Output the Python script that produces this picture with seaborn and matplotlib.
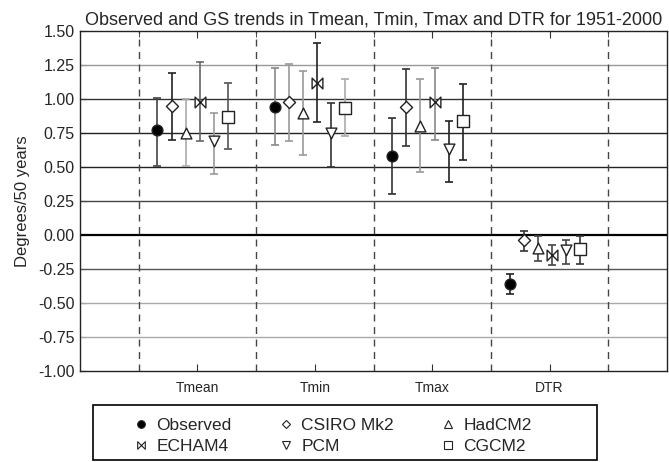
import numpy as np
import pandas as pd
import matplotlib
matplotlib.use("Agg")
import matplotlib.pyplot as plt
from matplotlib.path import Path
from matplotlib.lines import Line2D
from matplotlib.patches import Rectangle
import seaborn as sns

# ---------------- data ----------------
variables = ["Tmean", "Tmin", "Tmax", "DTR"]
series = ["Observed", "CSIRO Mk2", "HadCM2", "ECHAM4", "PCM", "CGCM2"]

obs_val = [0.77, 0.94, 0.58, -0.36]
obs_hi = [1.01, 1.23, 0.863, -0.289]
obs_lo = [0.51, 0.66, 0.30, -0.434]

csiro_val = [0.95, 0.98, 0.94, -0.04]
csiro_hi = [1.19, 1.255, 1.218, 0.032]
csiro_lo = [0.70, 0.69, 0.654, -0.118]

had_val = [0.75, 0.90, 0.80, -0.095]
had_hi = [1.00, 1.205, 1.15, -0.006]
had_lo = [0.51, 0.586, 0.463, -0.19]

echam_val = [0.98, 1.12, 0.98, -0.145]
echam_hi = [1.27, 1.414, 1.23, -0.077]
echam_lo = [0.69, 0.83, 0.70, -0.218]

pcm_val = [0.69, 0.75, 0.63, -0.11]
pcm_hi = [0.90, 0.973, 0.838, -0.035]
pcm_lo = [0.45, 0.50, 0.39, -0.213]

cgcm_val = [0.87, 0.935, 0.84, -0.105]
cgcm_hi = [1.115, 1.145, 1.113, -0.006]
cgcm_lo = [0.63, 0.726, 0.55, -0.213]

yticks = [1.50, 1.25, 1.00, 0.75, 0.50, 0.25, 0.00, -0.25, -0.50, -0.75, -1.00]

# ---------------- styles ----------------
sns.set_style("ticks")
plt.rcParams["font.family"] = ["Liberation Sans", "DejaVu Sans"]
plt.rcParams["axes.unicode_minus"] = False

offsets = [-0.34, -0.22, -0.10, 0.02, 0.14, 0.26]
bowtie = Path([(-1, 1), (1, -1), (1, 1), (-1, -1), (-1, 1)],
              [Path.MOVETO, Path.LINETO, Path.LINETO, Path.LINETO, Path.CLOSEPOLY])
markers = {"Observed": "o", "CSIRO Mk2": "D", "HadCM2": "^",
           "ECHAM4": bowtie, "PCM": "v", "CGCM2": "s"}
msizes = {"Observed": 60, "CSIRO Mk2": 38, "HadCM2": 60,
          "ECHAM4": 60, "PCM": 60, "CGCM2": 70}
faces = {"Observed": "black", "CSIRO Mk2": "white", "HadCM2": "white",
         "ECHAM4": "white", "PCM": "white", "CGCM2": "white"}
bar_shade = [  # rows: variables, cols: series
    ["#444444", "#222222", "#aaaaaa", "#666666", "#999999", "#555555"],
    ["#888888", "#999999", "#999999", "#222222", "#333333", "#aaaaaa"],
    ["#333333", "#333333", "#999999", "#888888", "#222222", "#222222"],
    ["#222222", "#333333", "#444444", "#444444", "#444444", "#333333"],
]
grid_shade = {1.25: "#999999", 1.00: "#333333", 0.75: "#222222", 0.50: "#222222",
              0.25: "#444444", 0.00: "#000000", -0.25: "#555555", -0.50: "#aaaaaa",
              -0.75: "#aaaaaa"}

# ---------------- table ----------------
vals = [obs_val, csiro_val, had_val, echam_val, pcm_val, cgcm_val]
his = [obs_hi, csiro_hi, had_hi, echam_hi, pcm_hi, cgcm_hi]
los = [obs_lo, csiro_lo, had_lo, echam_lo, pcm_lo, cgcm_lo]
rows = []
for si, s in enumerate(series):
    for vi, v in enumerate(variables):
        rows.append(dict(series=s, variable=v, vi=vi, si=si,
                         x=vi + 1 + offsets[si], value=vals[si][vi],
                         hi=his[si][vi], lo=los[si][vi]))
df = pd.DataFrame(rows)

# ---------------- figure ----------------
fig = plt.figure(figsize=(6.69, 4.62), dpi=100)
ax = fig.add_axes([80 / 669, 1 - 371 / 462, 587 / 669, 340 / 462])

ax.set_xlim(0, 5)
ax.set_ylim(-1.0, 1.5)

for yv, c in grid_shade.items():
    ax.axhline(yv, color=c, lw=1.6 if yv == 0 else 1.0, zorder=1)
for xv in [0.5, 1.5, 2.5, 3.5, 4.5]:
    ax.axvline(xv, color="#444444", lw=1.0, ls=(0, (5, 4)), zorder=1)

for _, r in df.iterrows():
    c = bar_shade[int(r.vi)][int(r.si)]
    ax.errorbar(r.x, r.value, yerr=[[r.value - r.lo], [r.hi - r.value]],
                fmt="none", ecolor=c, elinewidth=1.2, capsize=3.2, capthick=1.2,
                zorder=2)

for s in series:
    sub = df[df.series == s]
    sns.scatterplot(data=sub, x="x", y="value", ax=ax, marker=markers[s],
                    s=msizes[s], facecolor=faces[s], edgecolor="#222222",
                    linewidth=1.0, zorder=3, legend=False)

ax.set_xticks([1, 2, 3, 4])
ax.set_xticklabels(variables, fontsize=10)
ax.set_xticks([0.5, 1.5, 2.5, 3.5, 4.5], minor=True)
ax.tick_params(axis="x", which="both", direction="in", top=True, bottom=True,
               color="#333333", pad=7)
ax.tick_params(axis="x", which="major", length=5)
ax.tick_params(axis="x", which="minor", length=4)
ax.set_yticks(yticks)
ax.set_yticklabels([f"{t:.2f}" for t in yticks], fontsize=11.5)
ax.tick_params(axis="y", direction="in", length=4, pad=4)
ax.set_xlabel("")
ax.set_ylabel("Degrees/50 years", fontsize=12, labelpad=6)
for sp in ax.spines.values():
    sp.set_visible(True)
    sp.set_color("#222222")
    sp.set_linewidth(1.0)

ax.set_title("Observed and GS trends in Tmean, Tmin, Tmax and DTR for 1951-2000",
             fontsize=13, pad=5)

# ---------------- legend ----------------
def handle(s):
    return Line2D([], [], ls="none", marker=markers[s],
                  markersize=5.5 if s != "CSIRO Mk2" else 4.5,
                  markerfacecolor=faces[s], markeredgecolor="#222222",
                  markeredgewidth=0.8)

order = ["Observed", "ECHAM4", "CSIRO Mk2", "PCM", "HadCM2", "CGCM2"]
leg = fig.legend([handle(s) for s in order], order, ncol=3,
                 loc="center left",
                 bbox_to_anchor=(134 / 669, 1 - 436 / 462),
                 fontsize=12.5, frameon=False, handlelength=0.8,
                 handletextpad=0.5, labelspacing=0.3, columnspacing=2.7,
                 borderpad=0, borderaxespad=0)
fig.patches.append(Rectangle((93 / 669, 2 / 462), 504 / 669, 55 / 462,
                             transform=fig.transFigure, fill=False,
                             edgecolor="black", linewidth=1.2))

fig.savefig("out.png", dpi=100)
